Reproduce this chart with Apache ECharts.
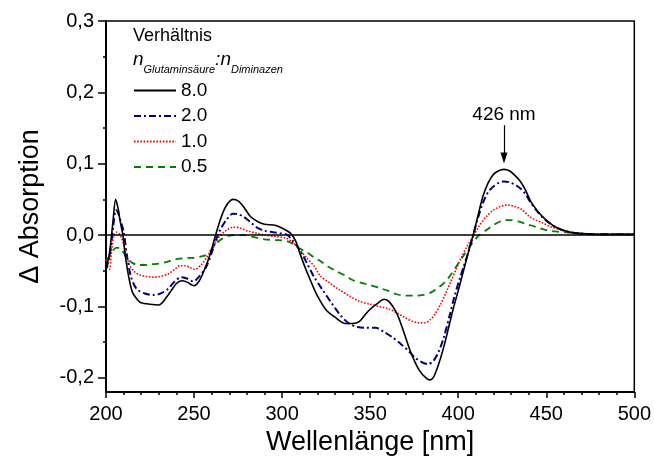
<!DOCTYPE html>
<html>
<head>
<meta charset="utf-8">
<script src="https://cdn.jsdelivr.net/npm/echarts@6/dist/echarts.min.js"></script>
<style>html,body{margin:0;padding:0;background:#fff}#c{width:654px;height:461px}</style>
</head>
<body>
<div id="c"></div>
<script>
// ---- data ----
const seriesNames = ['8.0', '2.0', '1.0', '0.5'];
const xTickValues = [200, 250, 300, 350, 400, 450, 500];
const yTickValues = [-0.2, -0.1, 0.0, 0.1, 0.2, 0.3];
const yMinorTickValues = [-0.15, -0.05, 0.05, 0.15, 0.25];

const wl80 = [200,202,204,205.5,207,208,209.6,211,213,215,218,220,225,230,235,240,243,246,250,253,256,259,262,265,268,272,275,278,282,286,290,295,298,302,305,308,310,313,316,320,325,330,336,340,344,347,350,354,358,361,365,368,371,374,378,382,384,386,389,392,395,397,400,403,406,408.5,411,414,417,420,423,426,429,432,435,438,441,444,447,450,454,458,462,466,470,480,490,500];
const abs80 = [-0.048,-0.025,0.020,0.050,0.036,0.020,0.000,-0.030,-0.060,-0.080,-0.091,-0.095,-0.097,-0.098,-0.085,-0.068,-0.064,-0.066,-0.071,-0.064,-0.048,-0.028,-0.002,0.022,0.040,0.050,0.048,0.040,0.026,0.019,0.015,0.014,0.012,0.007,0.002,-0.010,-0.025,-0.045,-0.063,-0.085,-0.105,-0.115,-0.124,-0.124,-0.121,-0.112,-0.104,-0.096,-0.090,-0.094,-0.109,-0.128,-0.150,-0.170,-0.190,-0.201,-0.203,-0.199,-0.180,-0.155,-0.125,-0.105,-0.078,-0.050,-0.022,0.000,0.025,0.054,0.073,0.085,0.090,0.092,0.090,0.084,0.076,0.064,0.048,0.037,0.028,0.021,0.013,0.008,0.005,0.003,0.002,0.001,0.001,0.001];

const wl20 = [200,202,204,205.7,207,208.5,210,212,214,216,218,222,227,231,235,239,243,246,249.5,253,257,260,263,265,268,272,275,278,282,286,290,295,300,303,306,308,311,314,318,323,328,333,338,343,347,353,358,363,368,372,376,380,383,386,389,392,395,398,401,403,406,408.5,411,414,417,420,423,426,429,432,435,438,441,444,447,450,454,458,462,466,470,480,490,500];
const abs20 = [-0.048,-0.030,0.010,0.035,0.030,0.018,0.005,-0.030,-0.057,-0.070,-0.077,-0.082,-0.084,-0.082,-0.076,-0.065,-0.059,-0.061,-0.065,-0.058,-0.044,-0.025,-0.003,0.008,0.020,0.030,0.029,0.026,0.018,0.010,0.006,0.004,0.002,0.000,-0.008,-0.014,-0.025,-0.039,-0.058,-0.077,-0.095,-0.112,-0.124,-0.129,-0.130,-0.130,-0.136,-0.144,-0.154,-0.163,-0.173,-0.179,-0.181,-0.176,-0.163,-0.142,-0.114,-0.085,-0.060,-0.045,-0.022,0.000,0.022,0.045,0.060,0.068,0.073,0.075,0.074,0.071,0.066,0.058,0.046,0.036,0.027,0.020,0.013,0.008,0.005,0.003,0.002,0.001,0.001,0.001];

const wl10 = [200,201,202,203,204.5,206,207.5,209,211,213,216,219,223,227,231,235,239,242,245,248,250.5,254,257,260,263,265,268,272,276,280,285,290,296,302,306,310,314,318,322,327,332,338,344,350,355,360,365,370,374,378,381,384,387,390,393,396,399,402,405,409,412,416,420,424,428,432,436,440,444,448,452,456,460,465,470,480,490,500];
const abs10 = [-0.035,-0.045,-0.048,-0.025,0.000,0.004,0.002,-0.005,-0.022,-0.040,-0.051,-0.056,-0.058,-0.059,-0.058,-0.055,-0.048,-0.043,-0.043,-0.046,-0.048,-0.042,-0.032,-0.020,-0.007,0.000,0.006,0.011,0.010,0.006,0.003,0.000,-0.002,-0.004,-0.010,-0.021,-0.032,-0.043,-0.058,-0.067,-0.076,-0.085,-0.093,-0.097,-0.100,-0.103,-0.109,-0.116,-0.121,-0.123,-0.123,-0.119,-0.110,-0.097,-0.081,-0.064,-0.047,-0.030,-0.016,0.000,0.013,0.026,0.035,0.040,0.042,0.040,0.036,0.027,0.021,0.017,0.012,0.009,0.006,0.003,0.002,0.001,0.001,0.001];

const wl05 = [200,202,204,205.5,208,210,212,215,218,222,226,230,234,238,242,246,250,254,257,260,263,266,270,274,278,284,290,296,302,306,310,314,318,322,326,331,336,340,345,350,355,360,365,370,376,380,384,388,392,396,400,403,406,409,412,416,420,425,430,434,438,442,446,450,455,460,470,480,490,500];
const abs05 = [-0.035,-0.030,-0.022,-0.018,-0.018,-0.025,-0.033,-0.039,-0.042,-0.042,-0.041,-0.040,-0.038,-0.035,-0.033,-0.032,-0.032,-0.030,-0.028,-0.020,-0.011,-0.005,-0.001,0.000,0.000,-0.003,-0.006,-0.007,-0.008,-0.012,-0.019,-0.024,-0.031,-0.037,-0.044,-0.051,-0.057,-0.063,-0.067,-0.070,-0.074,-0.078,-0.083,-0.085,-0.085,-0.084,-0.081,-0.075,-0.067,-0.055,-0.040,-0.029,-0.018,-0.008,0.000,0.007,0.014,0.020,0.021,0.019,0.016,0.013,0.010,0.007,0.005,0.004,0.002,0.001,0.001,0.001];

const peakLabel = '426 nm';
const peakX = 426;
const arrowFromY = 0.154;
const arrowToY = 0.108;

// ---- chart ----
const zip = (xs, ys) => xs.map((x, i) => [x, ys[i]]);
const FONT = '"Liberation Sans", Arial, sans-serif';
const fmt = v => (Math.abs(v) < 1e-9 ? 0 : v).toFixed(1).replace('.', ',');

const chart = echarts.init(document.getElementById('c'), null, { renderer: 'canvas' });

const baseSeries = (name, data, color, width, type) => ({
  name, type: 'line', data, showSymbol: false, symbol: 'none', smooth: 0.3,
  lineStyle: { color, width, type }, itemStyle: { color }, z: 3, animation: false
});

const s80 = baseSeries(seriesNames[0], zip(wl80, abs80), '#000000', 1.6, 'solid');
s80.z = 6;
s80.markLine = {
  silent: true, symbol: ['none', 'none'], animation: false,
  data: [
    { yAxis: 0, lineStyle: { color: '#000', width: 1.5, type: 'solid' }, label: { show: false } },
    [
      { coord: [peakX, arrowFromY], symbol: 'none',
        label: { show: true, position: 'start', formatter: peakLabel, color: '#000', fontSize: 19, fontFamily: FONT, distance: 1 },
        lineStyle: { color: '#000', width: 1.2, type: 'solid' } },
      { coord: [peakX, arrowToY], symbol: 'triangle', symbolSize: [7, 11], symbolRotate: 180 }
    ]
  ]
};
const s20 = baseSeries(seriesNames[1], zip(wl20, abs20), '#000080', 2, [7, 3, 2, 3]);
s20.z = 5;
const s10 = baseSeries(seriesNames[2], zip(wl10, abs10), '#ff0000', 1.6, [1.6, 1.6]);
s10.z = 4;
const s05 = baseSeries(seriesNames[3], zip(wl05, abs05), '#008000', 1.8, [7, 5]);

const yCommon = {
  type: 'value', min: -0.22, max: 0.3, position: 'left',
  splitLine: { show: false }
};

chart.setOption({
  animation: false,
  backgroundColor: '#fff',
  textStyle: { fontFamily: FONT },
  grid: { left: 106, right: 19, top: 21, bottom: 69, show: true, borderColor: '#000', borderWidth: 1.5, containLabel: false },
  xAxis: {
    type: 'value', min: 200, max: 500, interval: 50,
    name: 'Wellenlänge [nm]', nameLocation: 'middle', nameGap: 34,
    nameTextStyle: { fontSize: 27, color: '#000', fontFamily: FONT },
    axisLine: { show: true, onZero: false, lineStyle: { color: '#000', width: 2 } },
    axisTick: { show: true, inside: false, length: 6, lineStyle: { color: '#000', width: 1.5 }, customValues: xTickValues },
    minorTick: { show: true, splitNumber: 5, length: 3, lineStyle: { color: '#000', width: 1.5 } },
    axisLabel: { color: '#000', fontSize: 20, margin: 12, fontFamily: FONT, customValues: xTickValues },
    splitLine: { show: false }
  },
  yAxis: [
    Object.assign({}, yCommon, {
      name: 'Δ Absorption', nameLocation: 'middle', nameGap: 62, nameRotate: 90,
      nameTextStyle: { fontSize: 27, color: '#000', fontFamily: FONT },
      axisLine: { show: true, onZero: false, lineStyle: { color: '#000', width: 2 } },
      axisTick: { show: true, inside: false, length: 8, lineStyle: { color: '#000', width: 1.5 }, customValues: yTickValues },
      axisLabel: { color: '#000', fontSize: 20, margin: 12, fontFamily: FONT, formatter: fmt, customValues: yTickValues }
    }),
    Object.assign({}, yCommon, {
      axisLine: { show: false },
      axisTick: { show: true, inside: false, length: 3, lineStyle: { color: '#000', width: 1.5 }, customValues: yMinorTickValues },
      axisLabel: { show: false }
    })
  ],
  legend: {
    show: true, orient: 'vertical', left: 128, top: 76,
    itemWidth: 42, itemHeight: 14, itemGap: 6.5,
    itemStyle: { opacity: 0 },
    textStyle: { fontSize: 19, color: '#000', fontFamily: FONT },
    data: seriesNames, selectedMode: false
  },
  graphic: [
    { type: 'text', left: 133, top: 27, style: { text: 'Verhältnis', font: '18px "Liberation Sans", Arial, sans-serif', fill: '#000' } },
    { type: 'text', left: 133, top: 50, style: {
        text: '{n|n}{s|Glutaminsäure}{n|:n}{s|Diminazen}',
        fill: '#000',
        rich: {
          n: { fontSize: 19, fontStyle: 'italic', fontFamily: FONT, fill: '#000', verticalAlign: 'bottom', lineHeight: 22 },
          s: { fontSize: 11, fontStyle: 'italic', fontFamily: FONT, fill: '#000', verticalAlign: 'bottom', lineHeight: 22, padding: [0, 0, -6, 0] }
        }
    } }
  ],
  series: [s80, s20, s10, s05]
});
</script>
</body>
</html>
